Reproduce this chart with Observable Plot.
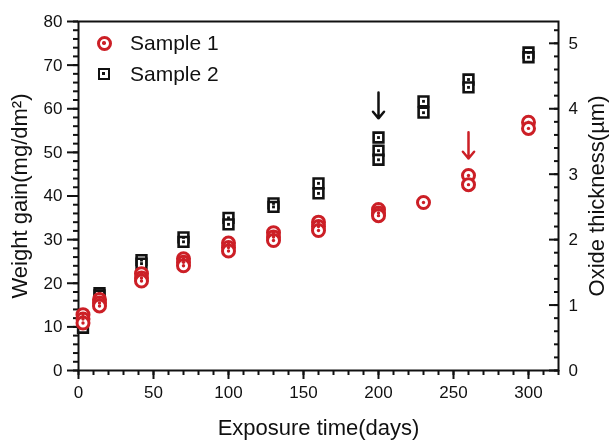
<!DOCTYPE html>
<html><head><meta charset="utf-8">
<script src="https://cdn.jsdelivr.net/npm/d3@7"></script>
<script src="https://cdn.jsdelivr.net/npm/@observablehq/plot@0.6"></script>
<style>
html,body{margin:0;padding:0;background:#fff;}
#wrap{position:relative;width:610px;height:441px;font-family:"Liberation Sans",Arial,sans-serif;}
#cell{position:absolute;left:0;top:0;width:610px;height:441px;transform:scale(1);transform-origin:0 0;will-change:transform;}
#cell > svg{display:block;}
g[aria-label="x-axis label"], g[aria-label="y-axis label"]{font-size:22px;}
.legtext{position:absolute;left:130px;height:22px;line-height:22px;font-size:21px;color:#111;white-space:nowrap;}
.ring{position:absolute;box-sizing:border-box;width:15px;height:15px;border:3px solid #cc1f26;border-radius:50%;background:#fff;}
.ring i{position:absolute;left:50%;top:50%;width:3.4px;height:3.4px;margin:-1.7px 0 0 -1.7px;border-radius:50%;background:#cc1f26;}
.sq{position:absolute;box-sizing:border-box;width:12.4px;height:12.4px;border:2.6px solid #111;background:#fff;}
.sq i{position:absolute;left:50%;top:50%;width:3px;height:3px;margin:-1.5px 0 0 -1.5px;background:#111;}
</style></head><body>
<div id="wrap"><div id="cell"></div></div>
<script>
// Sample 1 (red circles): exposure days and weight gain (mg/dm2)
const s1Days = [3,3,3,14,14,14,42,42,42,70,70,70,100,100,100,130,130,130,160,160,160,200,200,200,230,260,260,300,300];
const s1Gain = [12.8,11.8,10.9,16.3,15.5,14.8,22.2,21.2,20.5,25.6,24.8,24.0,29.2,28.2,27.4,31.6,30.6,29.8,34.0,33.0,32.1,36.9,36.1,35.5,38.5,44.7,42.6,56.9,55.5];
// Sample 2 (black squares)
const s2Days = [3,14,14,42,42,70,70,100,100,130,130,160,160,200,200,200,230,230,260,260,300,300];
const s2Gain = [9.8,17.7,17.2,25.3,24.5,30.5,29.5,35.0,33.5,38.3,37.5,42.9,40.6,53.4,50.4,48.3,61.7,59.1,66.7,64.9,72.9,71.8];
// annotation arrows
const arrowDay = [200, 260];
const arrowFrom = [63.7, 54.6];
const arrowTo = [57.8, 48.6];
// ticks
const xMajor = [0,50,100,150,200,250,300];
const xMinor = d3.range(0, 321, 10);
const yMajor = [0,10,20,30,40,50,60,70,80];
const yMinor = d3.range(0, 81, 2);
const thickMajor = [0,1,2,3,4,5];
const thickMinor = d3.range(0, 27).map(i => i / 5);
const mgPerMicron = 15;
const legendLabels = ["Sample 1", "Sample 2"];

const red = "#cc1f26";
const ink = "#111";
const s1 = s1Days.map((d, i) => ({day: d, gain: s1Gain[i]}));
const s2 = s2Days.map((d, i) => ({day: d, gain: s2Gain[i]}));
const arrowsBlack = [{day: arrowDay[0], from: arrowFrom[0], to: arrowTo[0]}];
const arrowsRed = [{day: arrowDay[1], from: arrowFrom[1], to: arrowTo[1]}];

const chart = Plot.plot({
  width: 610, height: 441,
  marginLeft: 78, marginRight: 52, marginTop: 21, marginBottom: 71,
  style: {fontFamily: "Liberation Sans, Arial, sans-serif", fontSize: "17px", color: ink, background: "white"},
  x: {domain: [0, 320]},
  y: {domain: [0, 80]},
  marks: [
    Plot.axisX(xMinor, {tickSize: 5, strokeWidth: 2, tickFormat: () => "", label: null}),
    Plot.axisX(xMajor, {tickSize: 9, tickPadding: 6, strokeWidth: 2, label: "Exposure time(days)", labelAnchor: "center", labelOffset: 64, labelArrow: "none"}),
    Plot.axisY(yMinor, {anchor: "left", tickSize: 5, strokeWidth: 2, tickFormat: () => "", label: null}),
    Plot.axisY(yMajor, {anchor: "left", tickSize: 11, tickPadding: 5, strokeWidth: 2, label: "Weight gain(mg/dm²)", labelAnchor: "center", labelOffset: 67, labelArrow: "none"}),
    Plot.axisY(thickMinor.map(t => t * mgPerMicron), {anchor: "right", tickSize: -5, strokeWidth: 2, tickFormat: () => "", label: null}),
    Plot.axisY(thickMajor.map(t => t * mgPerMicron), {anchor: "right", tickSize: -10, strokeWidth: 2, tickFormat: () => "", label: null}),
    Plot.axisY(thickMajor.map(t => t * mgPerMicron), {anchor: "right", tickSize: 0, tickPadding: 10, tickFormat: d => d / mgPerMicron, label: "Oxide thickness(µm)", labelAnchor: "center", labelOffset: 45, labelArrow: "none"}),
    Plot.frame({stroke: ink, strokeWidth: 2}),
    Plot.dot(s2, {x: "day", y: "gain", symbol: "square", r: 5.5, stroke: ink, strokeWidth: 2.6, fill: "white"}),
    Plot.dot(s2, {x: "day", y: "gain", symbol: "square", r: 1.6, fill: ink}),
    Plot.dot(s1, {x: "day", y: "gain", r: 6, stroke: red, strokeWidth: 3, fill: "white"}),
    Plot.dot(s1, {x: "day", y: "gain", r: 1.7, fill: red}),
    Plot.arrow(arrowsBlack, {x: "day", y1: "from", y2: "to", stroke: ink, strokeWidth: 2.5, headLength: 10, headAngle: 80}),
    Plot.arrow(arrowsRed, {x: "day", y1: "from", y2: "to", stroke: red, strokeWidth: 2.5, headLength: 10, headAngle: 80})
  ]
});
const wrap = document.getElementById("wrap");
document.getElementById("cell").appendChild(chart);

// legend (HTML, inside the plot's upper-left corner)
function legendItem(centerY, label, cls, size) {
  const icon = document.createElement("span");
  icon.className = cls;
  icon.style.left = (104 - size / 2) + "px";
  icon.style.top = (centerY - size / 2) + "px";
  icon.appendChild(document.createElement("i"));
  wrap.appendChild(icon);
  const t = document.createElement("div");
  t.className = "legtext";
  t.style.top = (centerY - 11) + "px";
  t.textContent = label;
  wrap.appendChild(t);
}
legendItem(43, legendLabels[0], "ring", 15);
legendItem(74, legendLabels[1], "sq", 12.4);
</script>
</body></html>
